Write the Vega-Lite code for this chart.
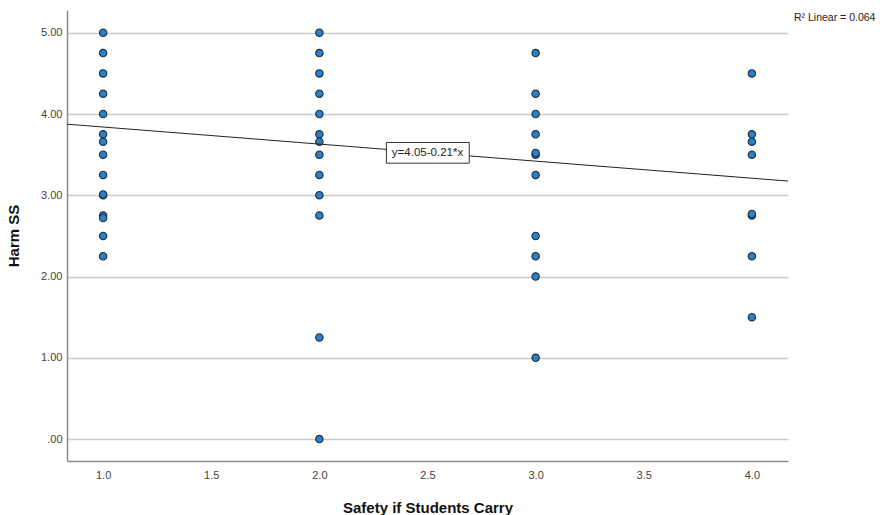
{
  "$schema": "https://vega.github.io/schema/vega-lite/v6.json",
  "width": 721,
  "height": 451,
  "autosize": {"type": "none"},
  "padding": {"left": 67, "top": 10, "right": 92, "bottom": 54},
  "background": "white",
  "config": {
    "view": {"stroke": null},
    "font": "Liberation Sans"
  },
  "layer": [
    {
      "data": {"values": [
        {"safety": 1, "harm": 5.00}, {"safety": 1, "harm": 4.75}, {"safety": 1, "harm": 4.50}, {"safety": 1, "harm": 4.25},
        {"safety": 1, "harm": 4.00}, {"safety": 1, "harm": 3.75}, {"safety": 1, "harm": 3.66}, {"safety": 1, "harm": 3.50},
        {"safety": 1, "harm": 3.25}, {"safety": 1, "harm": 3.00}, {"safety": 1, "harm": 3.01}, {"safety": 1, "harm": 2.75},
        {"safety": 1, "harm": 2.72}, {"safety": 1, "harm": 2.50}, {"safety": 1, "harm": 2.25},
        {"safety": 2, "harm": 5.00}, {"safety": 2, "harm": 4.75}, {"safety": 2, "harm": 4.50}, {"safety": 2, "harm": 4.25},
        {"safety": 2, "harm": 4.00}, {"safety": 2, "harm": 3.75}, {"safety": 2, "harm": 3.66}, {"safety": 2, "harm": 3.50},
        {"safety": 2, "harm": 3.25}, {"safety": 2, "harm": 3.00}, {"safety": 2, "harm": 2.75}, {"safety": 2, "harm": 1.25},
        {"safety": 2, "harm": 0.00},
        {"safety": 3, "harm": 4.75}, {"safety": 3, "harm": 4.25}, {"safety": 3, "harm": 4.00}, {"safety": 3, "harm": 3.75},
        {"safety": 3, "harm": 3.50}, {"safety": 3, "harm": 3.52}, {"safety": 3, "harm": 3.25}, {"safety": 3, "harm": 2.50},
        {"safety": 3, "harm": 2.25}, {"safety": 3, "harm": 2.00}, {"safety": 3, "harm": 1.00},
        {"safety": 4, "harm": 4.50}, {"safety": 4, "harm": 3.75}, {"safety": 4, "harm": 3.66}, {"safety": 4, "harm": 3.50},
        {"safety": 4, "harm": 2.75}, {"safety": 4, "harm": 2.77}, {"safety": 4, "harm": 2.25}, {"safety": 4, "harm": 1.50}
      ]},
      "mark": {"type": "point", "filled": true, "size": 55, "fill": "#2c80c4", "stroke": "#1b2f45", "strokeWidth": 1.1, "opacity": 1},
      "encoding": {
        "x": {
          "field": "safety", "type": "quantitative",
          "scale": {"domain": [0.833, 4.167], "nice": false, "zero": false},
          "axis": {
            "title": "Safety if Students Carry",
            "values": [1, 1.5, 2, 2.5, 3, 3.5, 4],
            "format": ".1f",
            "grid": false, "ticks": false,
            "domainColor": "#8c8c8c", "domainWidth": 1.5,
            "labelColor": "#444444", "labelFontSize": 11, "labelPadding": 8,
            "titleFontSize": 15, "titleFontWeight": "bold", "titleColor": "#111111", "titlePadding": 20
          }
        },
        "y": {
          "field": "harm", "type": "quantitative",
          "scale": {"domain": [-0.27, 5.28], "nice": false, "zero": false},
          "axis": {
            "title": "Harm SS",
            "values": [0, 1, 2, 3, 4, 5],
            "labelExpr": "datum.value == 0 ? '.00' : format(datum.value, '.2f')",
            "grid": true, "gridColor": "#cccccc", "gridWidth": 1.5,
            "ticks": false,
            "domainColor": "#8c8c8c", "domainWidth": 1.5,
            "labelColor": "#444444", "labelFontSize": 11, "labelPadding": 5,
            "titleFontSize": 15, "titleFontWeight": "bold", "titleColor": "#111111", "titlePadding": 19
          }
        }
      }
    },
    {
      "data": {"values": [
        {"safety": 0.833, "harm": 3.875},
        {"safety": 4.167, "harm": 3.175}
      ]},
      "mark": {"type": "line", "color": "#222222", "strokeWidth": 1},
      "encoding": {
        "x": {"field": "safety", "type": "quantitative"},
        "y": {"field": "harm", "type": "quantitative"}
      }
    },
    {
      "data": {"values": [
        {"x1": 2.31, "x2": 2.693, "y1": 3.395, "y2": 3.65}
      ]},
      "mark": {"type": "rect", "fill": "white", "stroke": "#333333", "strokeWidth": 1},
      "encoding": {
        "x": {"field": "x1", "type": "quantitative"},
        "x2": {"field": "x2"},
        "y": {"field": "y1", "type": "quantitative"},
        "y2": {"field": "y2"}
      }
    },
    {
      "data": {"values": [
        {"safety": 2.5, "harm": 3.52, "label": "y=4.05-0.21*x"}
      ]},
      "mark": {"type": "text", "fontSize": 11.5, "color": "#222222", "align": "center", "baseline": "middle"},
      "encoding": {
        "x": {"field": "safety", "type": "quantitative"},
        "y": {"field": "harm", "type": "quantitative"},
        "text": {"field": "label"}
      }
    },
    {
      "data": {"values": [
        {"safety": 4.383, "harm": 5.18, "label": "R² Linear = 0.064"}
      ]},
      "mark": {"type": "text", "fontSize": 10.5, "color": "#222222", "align": "center", "baseline": "middle", "clip": false},
      "encoding": {
        "x": {"field": "safety", "type": "quantitative"},
        "y": {"field": "harm", "type": "quantitative"},
        "text": {"field": "label"}
      }
    }
  ]
}
